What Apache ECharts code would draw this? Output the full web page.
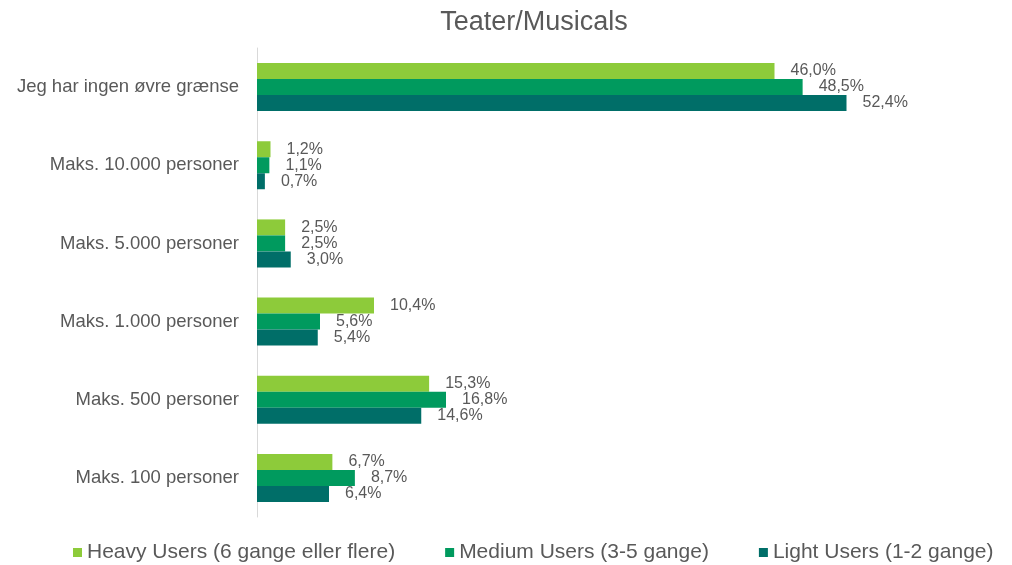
<!DOCTYPE html>
<html><head><meta charset="utf-8">
<script src="https://cdn.jsdelivr.net/npm/echarts@6/dist/echarts.min.js"></script>
<style>html,body{margin:0;padding:0;background:#fff}#c{width:1012px;height:565px}</style>
</head><body><div id="c"></div>
<script>
const categories = ['Jeg har ingen øvre grænse','Maks. 10.000 personer','Maks. 5.000 personer','Maks. 1.000 personer','Maks. 500 personer','Maks. 100 personer'];
const seriesNames = ['Heavy Users (6 gange eller flere)','Medium Users (3-5 gange)','Light Users (1-2 gange)'];
const heavy = [46.0, 1.2, 2.5, 10.4, 15.3, 6.7];
const medium = [48.5, 1.1, 2.5, 5.6, 16.8, 8.7];
const light = [52.4, 0.7, 3.0, 5.4, 14.6, 6.4];
const colors = ['#8DCB3A', '#009A5E', '#006E68'];
const font = 'Liberation Sans, Arial, sans-serif';
const fmt = p => p.value.toFixed(1).replace('.', ',') + '%';
const chart = echarts.init(document.getElementById('c'));
const mk = (name, data, i) => ({
  name, type: 'bar', data, barWidth: 16, barGap: '0%',
  itemStyle: { color: colors[i] },
  label: { show: true, position: 'right', distance: 16, formatter: fmt, color: '#595959', fontSize: 16, fontFamily: font },
  animation: false
});
chart.setOption({
  animation: false,
  title: { text: 'Teater/Musicals', left: 529, top: 4, textAlign: 'center',
    textStyle: { color: '#595959', fontSize: 27, fontWeight: 'normal', fontFamily: font } },
  legend: { top: 537, left: 68, itemWidth: 9, itemHeight: 9, itemGap: 50, icon: 'rect',
    textStyle: { color: '#595959', fontSize: 21, fontFamily: font }, data: seriesNames },
  grid: { left: 257, right: 80, top: 48, bottom: 48, containLabel: false },
  xAxis: { type: 'value', min: 0, max: 60, show: false },
  yAxis: { type: 'category', data: categories, inverse: true,
    axisLine: { show: true, lineStyle: { color: '#D9D9D9', width: 1 } },
    axisTick: { show: false },
    axisLabel: { color: '#595959', fontSize: 18.5, fontFamily: font, margin: 18 } },
  series: [mk(seriesNames[0], heavy, 0), mk(seriesNames[1], medium, 1), mk(seriesNames[2], light, 2)]
});
</script></body></html>
